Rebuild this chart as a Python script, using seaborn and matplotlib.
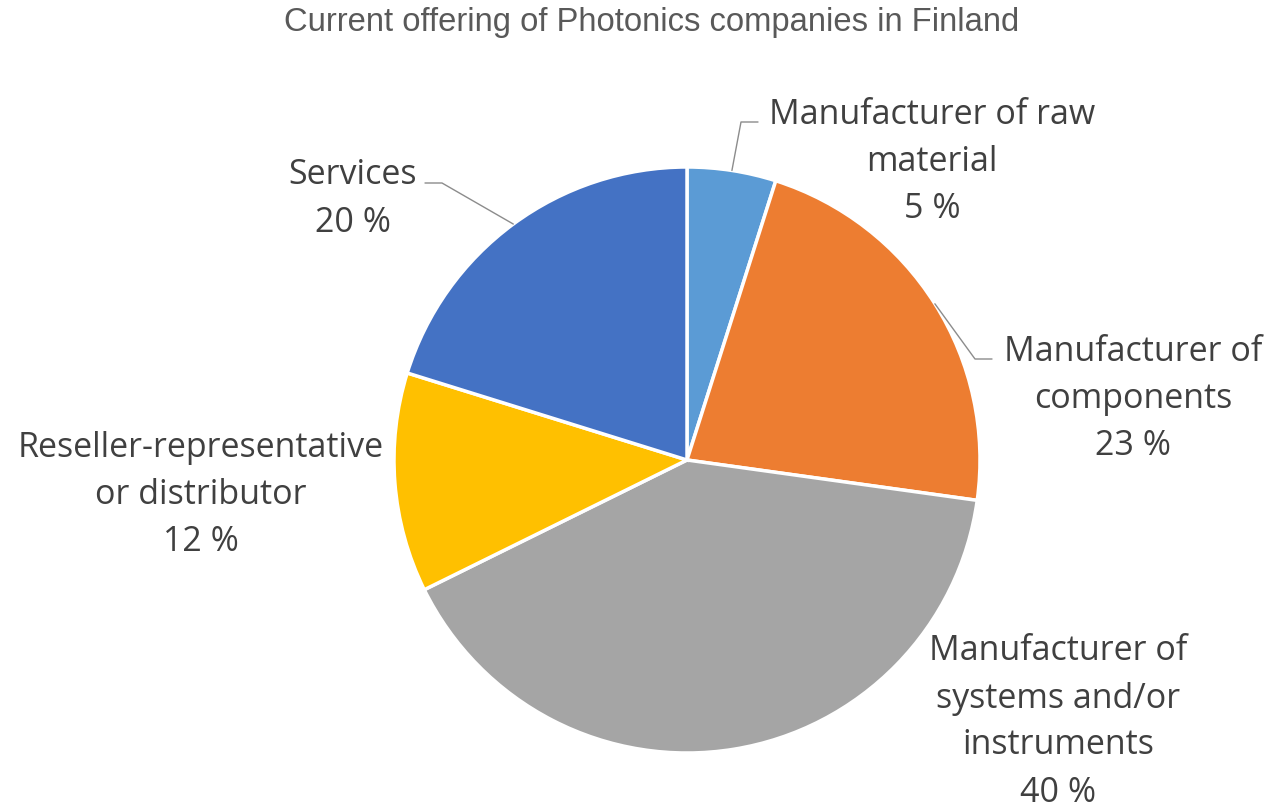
import matplotlib
matplotlib.use("Agg")
import matplotlib.pyplot as plt
import seaborn as sns
import numpy as np

categories = ["Manufacturer of raw\nmaterial", "Manufacturer of\ncomponents",
              "Manufacturer of\nsystems and/or\ninstruments",
              "Reseller-representative\nor distributor", "Services"]
shares = [4.9, 22.3, 40.5, 12.1, 20.2]
pct_labels = ["5 %", "23 %", "40 %", "12 %", "20 %"]
colors = ["#5B9BD5", "#ED7D31", "#A5A5A5", "#FFC000", "#4472C4"]

sns.set_theme(style="white")
plt.rcParams["font.family"] = ["Open Sans", "DejaVu Sans"]

W, H = 1273, 810
CX, CY, R = 687, 460, 293

fig = plt.figure(figsize=(W / 100, H / 100), dpi=100)
ax = fig.add_axes([0, 0, 1, 1])

wedges, _ = ax.pie(shares, colors=colors, startangle=90, counterclock=False,
                   radius=1.0, wedgeprops=dict(edgecolor="white", linewidth=2.5))
ax.set_xlim(-CX / R, (W - CX) / R)
ax.set_ylim((CY - H) / R, CY / R)
ax.set_aspect("equal")
ax.axis("off")


def px(x, y):
    return (x - CX) / R, (CY - y) / R


text_color = "#404040"
# label centre (pixels) and leader elbow/end (pixels or None)
label_pos = [(932, 162), (1133, 399), (1058, 722), (201, 495), (353, 199)]
leaders = [((741, 122), (758, 122)), ((975, 359), (992, 359)), None, None,
           ((442, 183), (425, 183))]

for w, cat, pct, pos, lead in zip(wedges, categories, pct_labels, label_pos, leaders):
    lx, ly = px(*pos)
    ax.text(lx, ly, f"{cat}\n{pct}", ha="center", va="center", fontsize=24.5,
            color=text_color, linespacing=1.5)
    if lead is not None:
        mid = np.deg2rad((w.theta1 + w.theta2) / 2)
        sx, sy = np.cos(mid), np.sin(mid)
        ex, ey = px(*lead[0])
        fx, fy = px(*lead[1])
        ax.plot([sx, ex, fx], [sy, ey, fy], color="#8c8c8c", lw=1.0)

fig.text(652 / W, 1 - 23 / H, "Current offering of Photonics companies in Finland",
         ha="center", va="center", fontsize=23.6, color="#595959",
         family=["Liberation Sans", "DejaVu Sans"])

fig.savefig("out.png", dpi=100, facecolor="white")
